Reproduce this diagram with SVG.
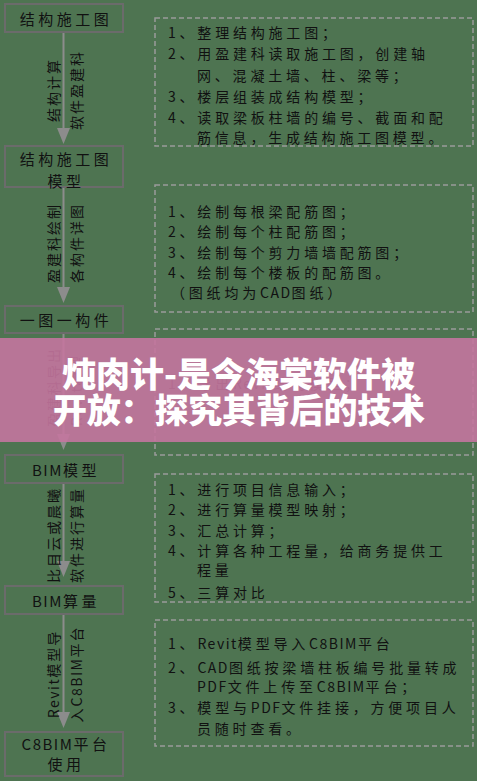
<svg xmlns="http://www.w3.org/2000/svg" width="477" height="781" viewBox="0 0 477 781">
<defs>
<style>
.node rect{fill:none;stroke:#6b6b6b;stroke-width:2}
.nt{font-family:"Noto Sans CJK SC","Liberation Sans",sans-serif;font-size:15px;fill:#111;text-anchor:middle;dominant-baseline:central;letter-spacing:3.5px}
.box rect{fill:none;stroke:#9a9a9a;stroke-width:1.5;stroke-dasharray:5 3}
.bt{font-family:"Noto Sans CJK SC","Liberation Sans",sans-serif;font-size:14px;fill:#111;dominant-baseline:central;letter-spacing:3.8px}
.lat{letter-spacing:1.5px}
.lbl{font-family:"Noto Sans CJK SC","Liberation Sans",sans-serif;font-size:14px;fill:#111;text-anchor:middle;dominant-baseline:central;letter-spacing:2px}
.conn line{stroke:#8c8c8c;stroke-width:2}
.conn polygon{fill:#8c8c8c}
.ban{font-family:"Noto Sans CJK SC","Liberation Sans",sans-serif;font-size:34px;font-weight:900;fill:#fff;text-anchor:middle;dominant-baseline:central}
</style>
</defs>
<rect width="477" height="781" fill="#4e7451"/>

<g id="connectors" class="conn">
<line x1="63.5" y1="32" x2="63.5" y2="130"/>
<polygon points="57,128 70,128 63.5,144"/>
<line x1="63.5" y1="188" x2="63.5" y2="289"/>
<polygon points="57,287 70,287 63.5,303"/>
<line x1="63.5" y1="333" x2="63.5" y2="436"/>
<polygon points="57,434 70,434 63.5,450"/>
<line x1="63.5" y1="483" x2="63.5" y2="563"/>
<polygon points="57,561 70,561 63.5,577"/>
<line x1="63.5" y1="614" x2="63.5" y2="714"/>
<polygon points="57,712 70,712 63.5,728"/>
</g>

<g id="labels">
<text class="lbl" transform="translate(53,90) rotate(-90)">结构计算</text>
<text class="lbl" transform="translate(76,90) rotate(-90)">软件盈建科</text>
<text class="lbl" transform="translate(53,243) rotate(-90)">盈建科绘制</text>
<text class="lbl" transform="translate(76,243) rotate(-90)">各构件详图</text>
<text class="lbl" transform="translate(53,387) rotate(-90)">盈建科导出</text>
<text class="lbl" transform="translate(76,390) rotate(-90)"><tspan class="lat">Revit</tspan>模型</text>
<text class="lbl" transform="translate(53,535) rotate(-90)">比目云或晨曦</text>
<text class="lbl" transform="translate(76,535) rotate(-90)">软件进行算量</text>
<text class="lbl" transform="translate(53,674) rotate(-90)"><tspan class="lat">Revit</tspan>模型导</text>
<text class="lbl" transform="translate(76,674) rotate(-90)">入<tspan class="lat">C8BIM</tspan>平台</text>
</g>

<g id="n1" class="node"><rect x="5" y="4" width="118" height="28"/><text class="nt" x="66" y="18">结构施工图</text></g>
<g id="n2" class="node"><rect x="5" y="146" width="118" height="41"/><text class="nt" x="66" y="158">结构施工图</text><text class="nt" x="66" y="180">模型</text></g>
<g id="n3" class="node"><rect x="5" y="306" width="118" height="27"/><text class="nt" x="66" y="319">一图一构件</text></g>
<g id="n4" class="node"><rect x="5" y="455" width="118" height="28"/><text class="nt" x="66" y="469"><tspan class="lat">BIM</tspan>模型</text></g>
<g id="n5" class="node"><rect x="5" y="586" width="118" height="28"/><text class="nt" x="66" y="600"><tspan class="lat">BIM</tspan>算量</text></g>
<g id="n6" class="node"><rect x="5" y="732" width="118" height="44"/><text class="nt" x="66" y="743"><tspan class="lat">C8BIM</tspan>平台</text><text class="nt" x="66" y="763">使用</text></g>

<g id="b1" class="box"><rect x="155" y="18" width="318" height="128"/>
<text class="bt" x="168" y="32">1、整理结构施工图；</text>
<text class="bt" x="168" y="53">2、用盈建科读取施工图，创建轴</text>
<text class="bt" x="197" y="75">网、混凝土墙、柱、梁等；</text>
<text class="bt" x="168" y="96">3、楼层组装成结构模型；</text>
<text class="bt" x="168" y="117">4、读取梁板柱墙的编号、截面和配</text>
<text class="bt" x="197" y="137">筋信息，生成结构施工图模型。</text>
</g>
<g id="b2" class="box"><rect x="155" y="185" width="318" height="127"/>
<text class="bt" x="168" y="211">1、绘制每根梁配筋图；</text>
<text class="bt" x="168" y="231">2、绘制每个柱配筋图；</text>
<text class="bt" x="168" y="252">3、绘制每个剪力墙墙配筋图；</text>
<text class="bt" x="168" y="272">4、绘制每个楼板的配筋图。</text>
<text class="bt" x="171" y="292">（图纸均为<tspan class="lat">CAD</tspan>图纸）</text>
</g>
<g id="b3" class="box"><rect x="155" y="329" width="318" height="126"/>
<text class="bt" x="168" y="383">1、导出<tspan class="lat">Revit</tspan>结构模型；</text>
</g>
<g id="b4" class="box"><rect x="155" y="474" width="318" height="128"/>
<text class="bt" x="168" y="489">1、进行项目信息输入；</text>
<text class="bt" x="168" y="509">2、进行算量模型映射；</text>
<text class="bt" x="168" y="530">3、汇总计算；</text>
<text class="bt" x="168" y="550">4、计算各种工程量，给商务提供工</text>
<text class="bt" x="197" y="569">程量</text>
<text class="bt" x="168" y="592">5、三算对比</text>
</g>
<g id="b5" class="box"><rect x="155" y="620" width="318" height="126"/>
<text class="bt" x="168" y="643">1、<tspan class="lat">Revit</tspan>模型导入<tspan class="lat">C8BIM</tspan>平台</text>
<text class="bt" x="168" y="667">2、<tspan class="lat">CAD</tspan>图纸按梁墙柱板编号批量转成</text>
<text class="bt" x="197" y="686"><tspan class="lat">PDF</tspan>文件上传至<tspan class="lat">C8BIM</tspan>平台；</text>
<text class="bt" x="168" y="707">3、模型与<tspan class="lat">PDF</tspan>文件挂接，方便项目人</text>
<text class="bt" x="197" y="728">员随时查看。</text>
</g>

<g id="banner">
<rect x="0" y="338" width="477" height="104" fill="#c4759f" fill-opacity="0.9"/>
<text class="ban" x="238.5" y="372" textLength="353" lengthAdjust="spacing">炖肉计-是今海棠软件被</text>
<text class="ban" x="239" y="408" textLength="372" lengthAdjust="spacing">开放：探究其背后的技术</text>
</g>
</svg>
